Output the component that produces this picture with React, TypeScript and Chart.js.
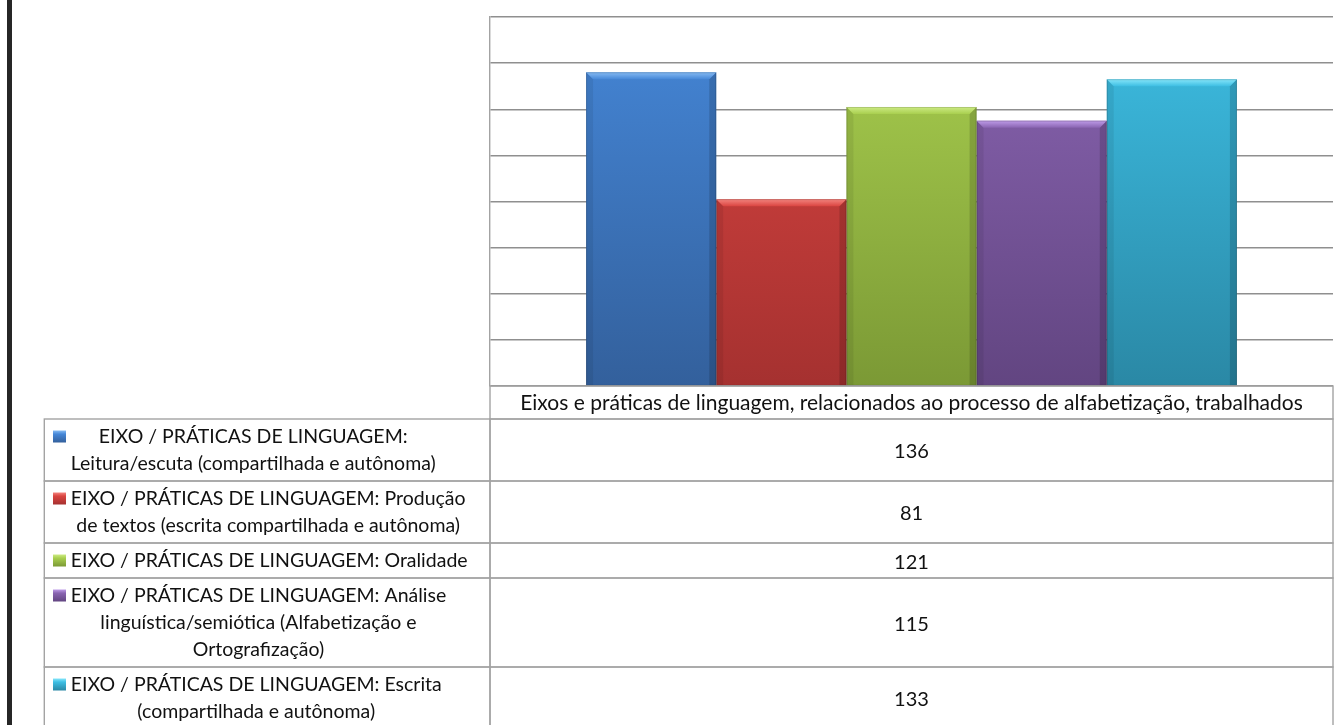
import React, { useEffect, useRef } from 'react';
import { Chart, registerables } from 'chart.js';

Chart.register(...registerables);

const categoryLabels = ['Eixos e práticas de linguagem, relacionados ao processo de alfabetização, trabalhados'];
const seriesNames = [
  'EIXO / PRÁTICAS DE LINGUAGEM: Leitura/escuta (compartilhada e autônoma)',
  'EIXO / PRÁTICAS DE LINGUAGEM: Produção de textos (escrita compartilhada e autônoma)',
  'EIXO / PRÁTICAS DE LINGUAGEM: Oralidade',
  'EIXO / PRÁTICAS DE LINGUAGEM: Análise linguística/semiótica (Alfabetização e Ortografização)',
  'EIXO / PRÁTICAS DE LINGUAGEM: Escrita (compartilhada e autônoma)',
];
const seriesLegendLines = [
  ['EIXO / PRÁTICAS DE LINGUAGEM:', 'Leitura/escuta (compartilhada e autônoma)'],
  ['EIXO / PRÁTICAS DE LINGUAGEM: Produção', 'de textos (escrita compartilhada e autônoma)'],
  ['EIXO / PRÁTICAS DE LINGUAGEM: Oralidade'],
  ['EIXO / PRÁTICAS DE LINGUAGEM: Análise', 'linguística/semiótica (Alfabetização e', 'Ortografização)'],
  ['EIXO / PRÁTICAS DE LINGUAGEM: Escrita', '(compartilhada e autônoma)'],
];
const seriesValues = [136, 81, 121, 115, 133];
const seriesTopColors = ['#4587D8', '#DA4541', '#A9CF4F', '#8964B1', '#3DBEE3'];
const seriesBottomColors = ['#33609C', '#A53130', '#7B9935', '#624581', '#2A88A5'];
const seriesHighlight = ['#86BBF3', '#F4857F', '#CDEB85', '#BE9BE8', '#86E6FA'];
const yMin = 0;
const yMax = 160;
const yStep = 20;

const FONT = 'Lato, "Open Sans", sans-serif';
const GRID = '#8f8f8f';
const BORDER = '#a3a3a3';
const TEXT = '#111111';

const tablePlugin = {
  id: 'dataTable',
  beforeDraw(chart: any) {
    const ctx = chart.ctx;
    ctx.save();
    ctx.fillStyle = '#ffffff';
    ctx.fillRect(0, 0, chart.width, chart.height);
    ctx.fillStyle = '#262626';
    ctx.fillRect(7, 0, 5, chart.height);
    ctx.restore();
  },
  afterDatasetsDraw(chart: any) {
    const ctx = chart.ctx;
    ctx.save();
    chart.data.datasets.forEach((ds: any, i: number) => {
      const meta = chart.getDatasetMeta(i);
      meta.data.forEach((bar: any) => {
        const { x, y, base, width } = bar.getProps(['x', 'y', 'base', 'width'], true);
        const l = x - width / 2;
        const r = x + width / 2;
        const t = y;
        const b = base;
        const bv = 7;
        ctx.fillStyle = 'rgba(0,0,0,0.07)';
        ctx.beginPath();
        ctx.moveTo(l, t);
        ctx.lineTo(l + bv, t + bv);
        ctx.lineTo(l + bv, b);
        ctx.lineTo(l, b);
        ctx.closePath();
        ctx.fill();
        ctx.fillStyle = 'rgba(0,0,0,0.15)';
        ctx.beginPath();
        ctx.moveTo(r, t);
        ctx.lineTo(r - bv, t + bv);
        ctx.lineTo(r - bv, b);
        ctx.lineTo(r, b);
        ctx.closePath();
        ctx.fill();
        const g = ctx.createLinearGradient(0, t, 0, t + bv);
        g.addColorStop(0, seriesHighlight[i]);
        g.addColorStop(1, seriesTopColors[i]);
        ctx.fillStyle = g;
        ctx.beginPath();
        ctx.moveTo(l, t);
        ctx.lineTo(r, t);
        ctx.lineTo(r - bv, t + bv);
        ctx.lineTo(l + bv, t + bv);
        ctx.closePath();
        ctx.fill();
        ctx.strokeStyle = 'rgba(0,0,0,0.15)';
        ctx.lineWidth = 1;
        ctx.strokeRect(l + 0.5, t + 0.5, width - 1, b - t - 0.5);
      });
    });
    ctx.restore();
  },
  afterDraw(chart: any) {
    const ctx = chart.ctx;
    const area = chart.chartArea;
    const L = area.left;
    const R = area.right;
    const B = area.bottom;
    const tableLeft = 44.3;
    const lineH = 27;
    ctx.save();
    ctx.strokeStyle = BORDER;
    ctx.lineWidth = 1.4;
    ctx.fillStyle = TEXT;
    ctx.textBaseline = 'middle';

    const headH = 33;
    ctx.strokeRect(L, B, R - L, headH);
    ctx.font = `21px ${FONT}`;
    ctx.textAlign = 'center';
    ctx.fillText(categoryLabels[0], (L + R) / 2, B + headH / 2 + 1);

    let top = B + headH;
    seriesValues.forEach((v, i) => {
      const lines = seriesLegendLines[i];
      const h = lines.length * lineH + 8;
      ctx.strokeStyle = BORDER;
      ctx.strokeRect(tableLeft, top, L - tableLeft, h);
      ctx.strokeRect(L, top, R - L, h);
      const firstY = top + h / 2 - ((lines.length - 1) * lineH) / 2;
      const kg = ctx.createLinearGradient(0, firstY - 6, 0, firstY + 6);
      kg.addColorStop(0, seriesHighlight[i]);
      kg.addColorStop(0.3, seriesTopColors[i]);
      kg.addColorStop(1, seriesBottomColors[i]);
      ctx.fillStyle = kg;
      ctx.fillRect(53, firstY - 6, 13, 12);
      ctx.font = `19.5px ${FONT}`;
      ctx.fillStyle = TEXT;
      const maxW = Math.max(...lines.map((s) => ctx.measureText(s).width));
      const cx = Math.min(70.7 + maxW / 2, (70.7 + L - 4) / 2 + 10);
      lines.forEach((s, k) => {
        ctx.textAlign = 'center';
        ctx.fillText(s, cx, firstY + k * lineH);
      });
      ctx.font = `20px ${FONT}`;
      ctx.textAlign = 'center';
      ctx.fillText(String(v), (L + R) / 2, top + h / 2 + 2);
      top += h;
    });
    ctx.restore();
  },
};

export default function App() {
  const ref = useRef<HTMLCanvasElement | null>(null);
  useEffect(() => {
    if (!ref.current) return;
    const chart = new Chart(ref.current, {
      type: 'bar',
      data: {
        labels: categoryLabels,
        datasets: seriesValues.map((v, i) => ({
          label: seriesNames[i],
          data: [v],
          backgroundColor: (c: any) => {
            const ca = c.chart.chartArea;
            if (!ca) return seriesTopColors[i];
            const g = c.chart.ctx.createLinearGradient(0, ca.top, 0, ca.bottom);
            g.addColorStop(0, seriesTopColors[i]);
            g.addColorStop(1, seriesBottomColors[i]);
            return g;
          },
          borderWidth: 0,
          categoryPercentage: 0.772,
          barPercentage: 1,
        })),
      },
      options: {
        responsive: false,
        animation: false,
        layout: { padding: { left: 490, right: 11, top: 17, bottom: 339 } },
        plugins: { legend: { display: false }, tooltip: { enabled: false }, title: { display: false } },
        scales: {
          x: { display: false },
          y: {
            min: yMin,
            max: yMax,
            ticks: { display: false, stepSize: yStep },
            grid: { color: GRID, lineWidth: 1.4, drawTicks: false },
            border: { display: true, color: BORDER, width: 1.4 },
          },
        },
      },
      plugins: [tablePlugin],
    });
    return () => chart.destroy();
  }, []);
  return (
    <div style={{ position: 'fixed', left: 0, top: 0, width: 1344, height: 725, background: '#fff' }}>
      <canvas ref={ref} width={1344} height={725} style={{ display: 'block' }} />
    </div>
  );
}
